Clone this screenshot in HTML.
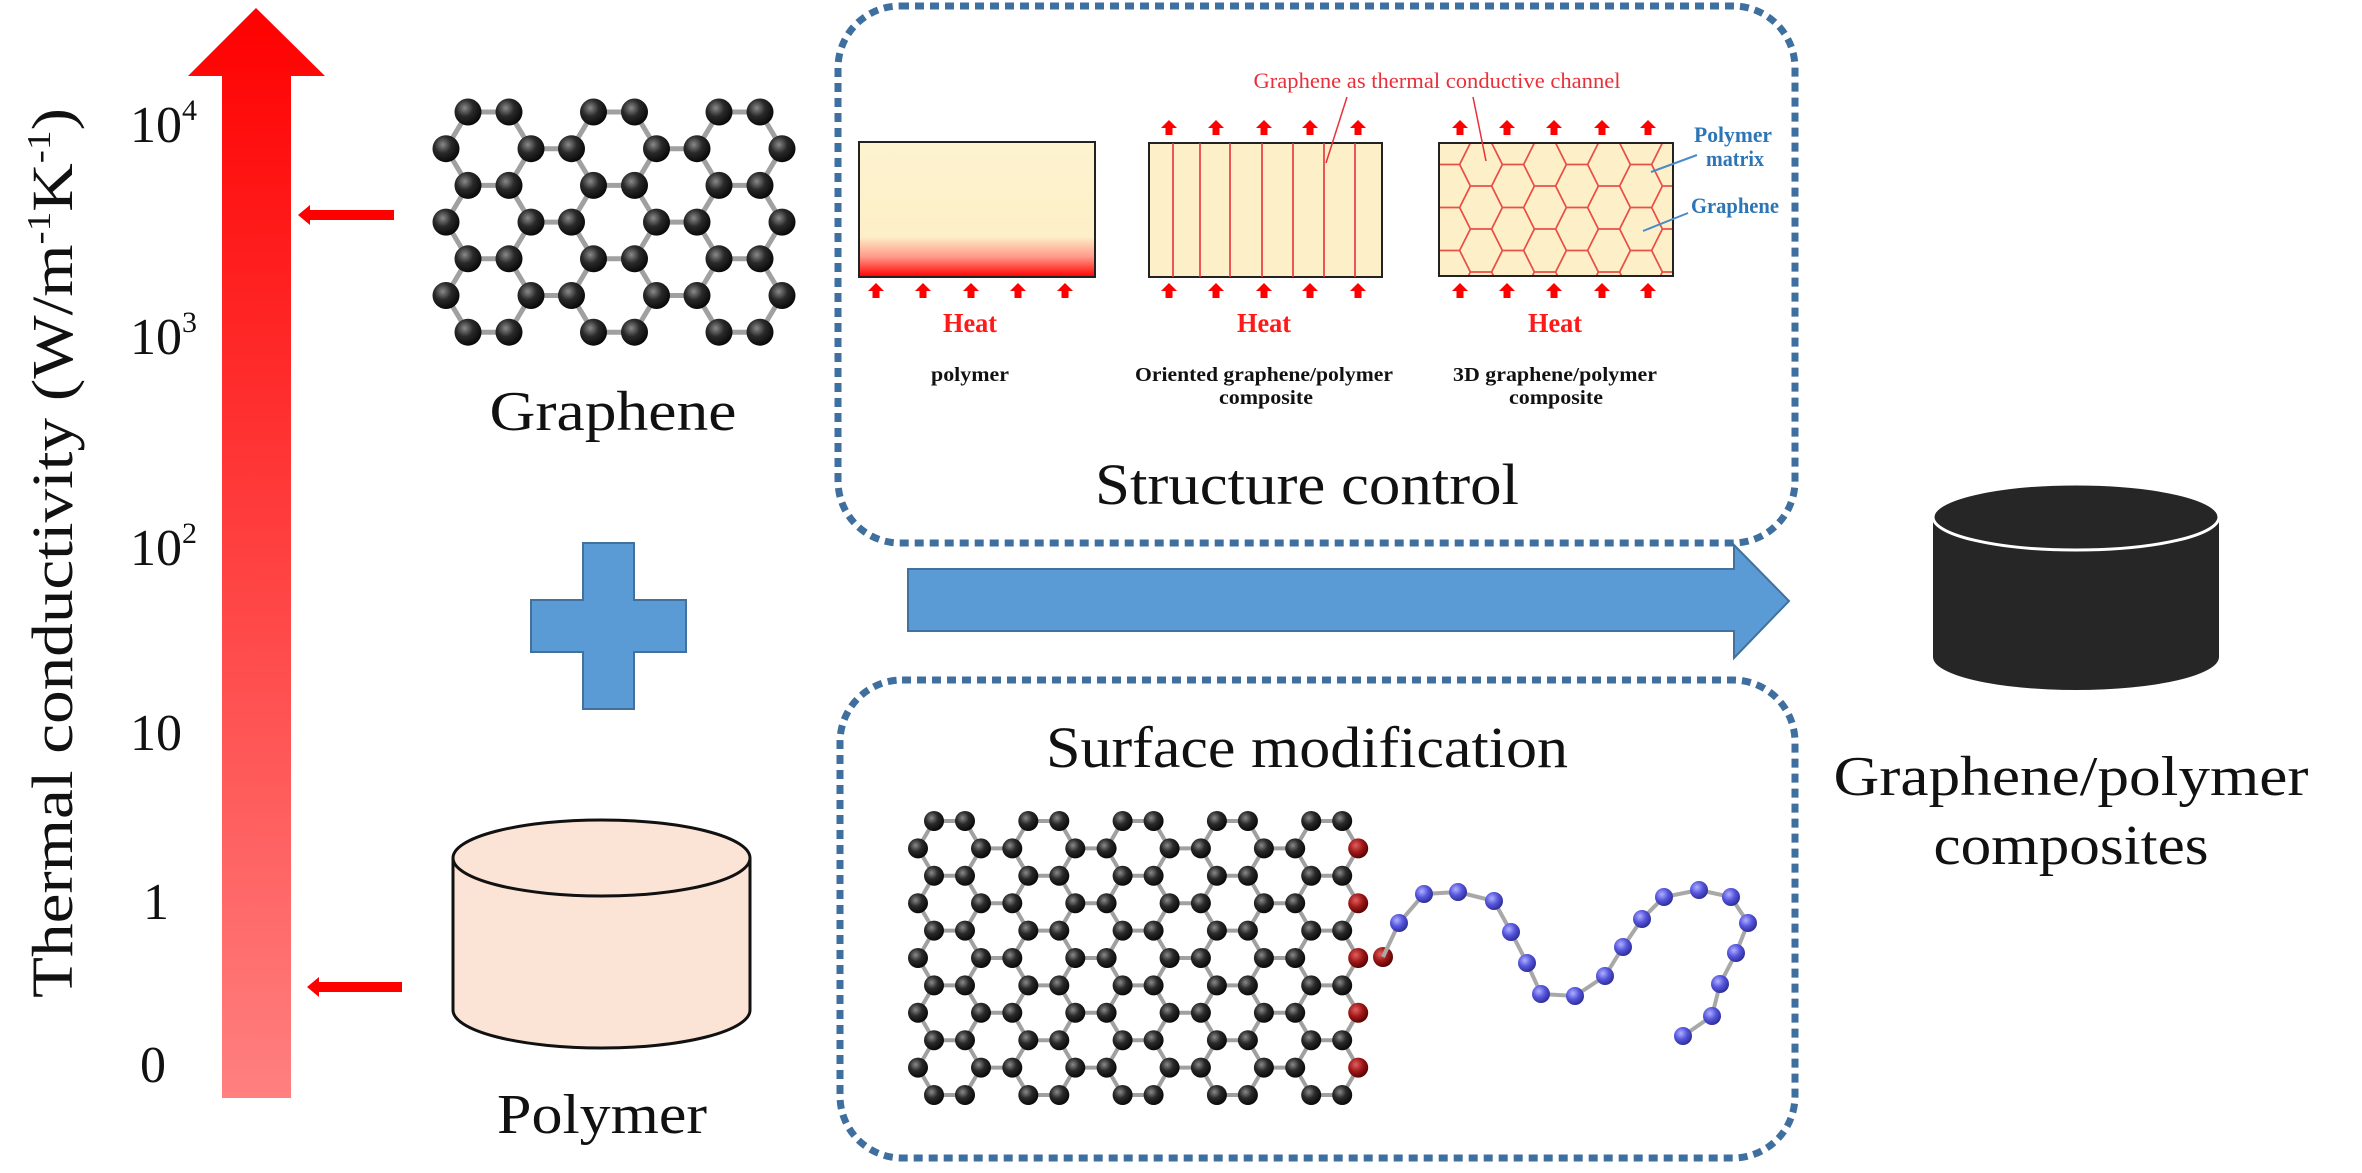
<!DOCTYPE html>
<html><head><meta charset="utf-8">
<style>
html,body{margin:0;padding:0;background:#fff;}
svg{display:block;}
text{font-family:"Liberation Serif",serif;}
</style></head>
<body>
<svg id="s" width="2362" height="1173" viewBox="0 0 2362 1173" xmlns="http://www.w3.org/2000/svg">
<defs>
<linearGradient id="redbar" x1="0" y1="0" x2="0" y2="1">
<stop offset="0" stop-color="#ff0000"/><stop offset="1" stop-color="#ff8080"/>
</linearGradient>
<linearGradient id="heatg" x1="0" y1="0" x2="0" y2="1">
<stop offset="0" stop-color="#fdf3cf"/><stop offset="0.7" stop-color="#fdf0c8"/><stop offset="0.85" stop-color="#ff9a8a"/><stop offset="1" stop-color="#ff0000"/>
</linearGradient>
<radialGradient id="atom" cx="0.38" cy="0.35" r="0.7">
<stop offset="0" stop-color="#8a8a8a"/><stop offset="0.45" stop-color="#2a2a2a"/><stop offset="1" stop-color="#050505"/>
</radialGradient>
<radialGradient id="ratom" cx="0.38" cy="0.35" r="0.7">
<stop offset="0" stop-color="#e06060"/><stop offset="0.5" stop-color="#a01818"/><stop offset="1" stop-color="#500000"/>
</radialGradient>
<radialGradient id="batom" cx="0.38" cy="0.35" r="0.7">
<stop offset="0" stop-color="#b0b0ff"/><stop offset="0.5" stop-color="#5555dd"/><stop offset="1" stop-color="#2a2a90"/>
</radialGradient>
<clipPath id="hexclip"><rect x="1439" y="143" width="234" height="133"/></clipPath>
<g id="uparrow"><polygon points="0,-8 8,0 3.5,0 3.5,7 -3.5,7 -3.5,0 -8,0" fill="#ff0000"/></g>
</defs>

<!-- Red axis arrow -->
<polygon points="256,8 325,76 291,76 291,1098 222,1098 222,76 188,76" fill="url(#redbar)"/>
<!-- small red arrows -->
<polygon points="298,215 310,205 310,210 394,210 394,220 310,220 310,225" fill="#ff0000"/>
<polygon points="307,987 319,977 319,982 402,982 402,992 319,992 319,997" fill="#ff0000"/>

<!-- axis labels -->
<g font-size="52" fill="#111">
<text x="130" y="142">10<tspan font-size="30" dy="-22">4</tspan></text>
<text x="130" y="354">10<tspan font-size="30" dy="-22">3</tspan></text>
<text x="130" y="565">10<tspan font-size="30" dy="-22">2</tspan></text>
<text x="130" y="750">10</text>
<text x="143" y="919">1</text>
<text x="140" y="1082">0</text>
</g>
<text transform="translate(72,998) rotate(-90)" font-size="58" fill="#111" textLength="890" lengthAdjust="spacingAndGlyphs">Thermal conductivity (W/m<tspan font-size="34" dy="-22">-1</tspan><tspan dy="22">K</tspan><tspan font-size="34" dy="-22">-1</tspan><tspan dy="22">)</tspan></text>

<!-- graphene top -->
<g id="gtop"></g>
<text x="613" y="430" font-size="56" text-anchor="middle" fill="#111" textLength="247" lengthAdjust="spacingAndGlyphs">Graphene</text>

<!-- plus -->
<polygon points="583,543 634,543 634,600 686,600 686,652 634,652 634,709 583,709 583,652 531,652 531,600 583,600" fill="#5b9bd5" stroke="#41719c" stroke-width="2"/>

<!-- polymer cylinder -->
<path d="M453,858 L453,1010 A148.5,38 0 0 0 750,1010 L750,858" fill="#fbe3d6" stroke="#111" stroke-width="3"/>
<ellipse cx="601.5" cy="858" rx="148.5" ry="38" fill="#fbe3d6" stroke="#111" stroke-width="3"/>
<text x="602" y="1133" font-size="56" text-anchor="middle" fill="#111" textLength="210" lengthAdjust="spacingAndGlyphs">Polymer</text>

<!-- dashed boxes -->
<rect x="838" y="6" width="957" height="537" rx="62" fill="none" stroke="#3f6f9e" stroke-width="7" stroke-dasharray="9 6"/>
<rect x="840" y="680" width="955" height="478" rx="62" fill="none" stroke="#3f6f9e" stroke-width="7" stroke-dasharray="9 6"/>

<!-- blue arrow -->
<polygon points="908,569 1734,569 1734,545 1789,601 1734,658 1734,631 908,631" fill="#5b9bd5" stroke="#41719c" stroke-width="2"/>

<!-- panels -->
<rect x="859" y="142" width="236" height="135" fill="url(#heatg)" stroke="#222" stroke-width="2"/>
<rect x="1149" y="143" width="233" height="134" fill="#fdf0c8" stroke="#222" stroke-width="2"/>
<g stroke="#e8303a" stroke-width="1.6">
<line x1="1173" y1="143" x2="1173" y2="277"/><line x1="1200" y1="143" x2="1200" y2="277"/><line x1="1230" y1="143" x2="1230" y2="277"/><line x1="1262" y1="143" x2="1262" y2="277"/><line x1="1293" y1="143" x2="1293" y2="277"/><line x1="1324" y1="143" x2="1324" y2="277"/><line x1="1355" y1="143" x2="1355" y2="277"/>
</g>
<rect x="1439" y="143" width="234" height="133" fill="#fdf0c8"/>
<g id="hex" clip-path="url(#hexclip)" stroke="#e8504a" stroke-width="1.5" fill="none"></g>
<rect x="1439" y="143" width="234" height="133" fill="none" stroke="#222" stroke-width="2"/>
<g id="arrows"></g>

<g fill="#ff1a1a" font-size="27" font-weight="bold" text-anchor="middle">
<text x="970" y="332" textLength="54" lengthAdjust="spacingAndGlyphs">Heat</text>
<text x="1264" y="332" textLength="54" lengthAdjust="spacingAndGlyphs">Heat</text>
<text x="1555" y="332" textLength="54" lengthAdjust="spacingAndGlyphs">Heat</text>
</g>
<g fill="#111" font-size="20" font-weight="bold" text-anchor="middle">
<text x="970" y="381" textLength="78" lengthAdjust="spacingAndGlyphs">polymer</text>
<text x="1264" y="381" textLength="258" lengthAdjust="spacingAndGlyphs">Oriented graphene/polymer</text>
<text x="1266" y="404" textLength="94" lengthAdjust="spacingAndGlyphs">composite</text>
<text x="1555" y="381" textLength="204" lengthAdjust="spacingAndGlyphs">3D graphene/polymer</text>
<text x="1556" y="404" textLength="94" lengthAdjust="spacingAndGlyphs">composite</text>
</g>
<text x="1437" y="88" font-size="22" fill="#e8303a" text-anchor="middle" textLength="367" lengthAdjust="spacingAndGlyphs">Graphene as thermal conductive channel</text>
<g stroke="#e8303a" stroke-width="1.5"><line x1="1347" y1="97" x2="1326" y2="163"/><line x1="1473" y1="97" x2="1486" y2="161"/></g>
<g fill="#2e75b6" font-size="22" font-weight="bold" text-anchor="middle">
<text x="1733" y="142" textLength="78" lengthAdjust="spacingAndGlyphs">Polymer</text>
<text x="1735" y="166" textLength="58" lengthAdjust="spacingAndGlyphs">matrix</text>
<text x="1735" y="213" textLength="88" lengthAdjust="spacingAndGlyphs">Graphene</text>
</g>
<g stroke="#4a8ac8" stroke-width="2"><line x1="1697" y1="155" x2="1651" y2="172"/><line x1="1688" y1="213" x2="1643" y2="231"/></g>

<text x="1307" y="504" font-size="58" text-anchor="middle" fill="#111" textLength="424" lengthAdjust="spacingAndGlyphs">Structure control</text>
<text x="1307" y="767" font-size="58" text-anchor="middle" fill="#111" textLength="522" lengthAdjust="spacingAndGlyphs">Surface modification</text>

<g id="gbot"></g>
<g id="chain"></g>

<!-- black cylinder -->
<path d="M1933,517 L1933,657 A143,33 0 0 0 2219,657 L2219,517 Z" fill="#262626"/>
<ellipse cx="2076" cy="517" rx="143" ry="33" fill="#262626" stroke="#fff" stroke-width="3"/>
<text x="2071" y="795" font-size="56" text-anchor="middle" fill="#111" textLength="475" lengthAdjust="spacingAndGlyphs">Graphene/polymer</text>
<text x="2071" y="864" font-size="56" text-anchor="middle" fill="#111" textLength="275" lengthAdjust="spacingAndGlyphs">composites</text>
</svg>
<script>
var NS="http://www.w3.org/2000/svg";
function el(p,t,a){var e=document.createElementNS(NS,t);for(var k in a)e.setAttribute(k,a[k]);p.appendChild(e);return e;}
function sheet(g,x0,period,npairs,w,off,y0,dy,nrows,r,bw,redB){
  var atoms=[],bonds=[];
  for(var i=0;i<nrows;i++){
    var y=y0+i*dy;
    if(i%2==0){
      for(var k=0;k<npairs;k++){var a=x0+k*period,b=a+w;atoms.push([a,y,0],[b,y,0]);bonds.push([a,y,b,y]);
        if(i>0){bonds.push([a,y,a-off,y-dy],[b,y,b+off,y-dy]);}
        if(i<nrows-1){bonds.push([a,y,a-off,y+dy],[b,y,b+off,y+dy]);}}
    }else{
      for(var k=0;k<npairs;k++){var a=x0+k*period-off,b=x0+k*period+w+off;
        atoms.push([a,y,0]);atoms.push([b,y,(redB&&k==npairs-1)?1:0]);
        if(k<npairs-1)bonds.push([b,y,x0+(k+1)*period-off,y]);}
    }
  }
  bonds.forEach(function(b){el(g,"line",{x1:b[0],y1:b[1],x2:b[2],y2:b[3],stroke:"#a0a0a0","stroke-width":bw});});
  atoms.forEach(function(a){el(g,"circle",{cx:a[0],cy:a[1],r:r,fill:a[2]?"url(#ratom)":"url(#atom)"});});
}
sheet(document.getElementById("gtop"),468,125.5,3,41,22,112,36.7,7,13.5,5,false);
sheet(document.getElementById("gbot"),934,94.3,5,31,16,821,27.4,11,10,4,true);
el(document.getElementById("gbot"),"circle",{cx:1383,cy:957,r:10,fill:"url(#ratom)"});
var pts=[[1383,957],[1399,923],[1424,894],[1458,892],[1494,901],[1511,932],[1527,963],[1541,994],[1575,996],[1605,976],[1623,947],[1642,919],[1664,897],[1699,890],[1731,897],[1748,923],[1736,953],[1720,984],[1712,1016],[1683,1036]];
var c=document.getElementById("chain");
el(c,"polyline",{points:pts.map(function(p){return p.join(",")}).join(" "),fill:"none",stroke:"#a8a8a8","stroke-width":4});
pts.slice(1).forEach(function(p){el(c,"circle",{cx:p[0],cy:p[1],r:9,fill:"url(#batom)"});});
// hex grid flat-top
var h=document.getElementById("hex");var R=21.5,H=21.5;
for(var col=-1;col<9;col++){for(var row=-1;row<5;row++){
  var cx=1439+10+col*32, cy=143+row*43+(col%2?21.5:0)+(col<0?21.5:0);
  var p=[[cx-R,cy],[cx-R/2,cy-H],[cx+R/2,cy-H],[cx+R,cy],[cx+R/2,cy+H],[cx-R/2,cy+H]];
  el(h,"polygon",{points:p.map(function(q){return q.join(",")}).join(" ")});}}
// heat arrows
var ar=document.getElementById("arrows");
[[876,923,971,1018,1065],[1169,1216,1264,1310,1358],[1460,1507,1554,1602,1648]].forEach(function(xs,i){
  xs.forEach(function(x){el(ar,"use",{href:"#uparrow",x:x,y:291});if(i>0)el(ar,"use",{href:"#uparrow",x:x,y:128});});});
</script>
</body></html>
